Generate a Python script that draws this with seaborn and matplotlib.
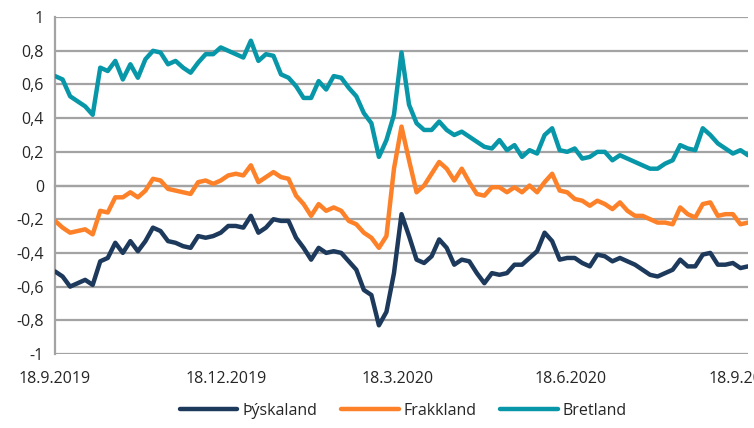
import pandas as pd
import seaborn as sns
import matplotlib.pyplot as plt
import matplotlib.dates as mdates
from matplotlib.ticker import FuncFormatter

sns.set_style("white")
plt.rcParams['font.family'] = ['Open Sans', 'DejaVu Sans']

# dates every 4 days from 18.9.2019
dates = pd.date_range("2019-09-18", periods=93, freq="4D")

bretland = [0.65, 0.63, 0.53, 0.50, 0.47, 0.42, 0.70, 0.68, 0.74, 0.63,
            0.72, 0.64, 0.75, 0.80, 0.79, 0.72, 0.74, 0.70, 0.67, 0.73,
            0.78, 0.78, 0.82, 0.80, 0.78, 0.76, 0.86, 0.74, 0.78, 0.77,
            0.66, 0.64, 0.59, 0.52, 0.52, 0.62, 0.57, 0.65, 0.64, 0.58,
            0.53, 0.43, 0.37, 0.17, 0.27, 0.42, 0.79, 0.48, 0.37, 0.33,
            0.33, 0.38, 0.33, 0.30, 0.32, 0.29, 0.26, 0.23, 0.22, 0.27,
            0.21, 0.24, 0.17, 0.21, 0.19, 0.30, 0.34, 0.21, 0.20, 0.22,
            0.16, 0.17, 0.20, 0.20, 0.15, 0.18, 0.16, 0.14, 0.12, 0.10,
            0.10, 0.13, 0.15, 0.24, 0.22, 0.21, 0.34, 0.30, 0.25, 0.22,
            0.19, 0.21, 0.18]

frakkland = [-0.21, -0.25, -0.28, -0.27, -0.26, -0.29, -0.15, -0.16, -0.07, -0.07,
             -0.04, -0.07, -0.03, 0.04, 0.03, -0.02, -0.03, -0.04, -0.05, 0.02,
             0.03, 0.01, 0.03, 0.06, 0.07, 0.06, 0.12, 0.02, 0.05, 0.08,
             0.05, 0.04, -0.06, -0.11, -0.18, -0.11, -0.15, -0.13, -0.15, -0.21,
             -0.23, -0.28, -0.31, -0.37, -0.30, 0.10, 0.35, 0.15, -0.04, 0.00,
             0.07, 0.14, 0.10, 0.03, 0.10, 0.02, -0.05, -0.06, -0.01, -0.01,
             -0.04, -0.01, -0.04, 0.00, -0.04, 0.02, 0.07, -0.03, -0.04, -0.08,
             -0.09, -0.12, -0.09, -0.11, -0.14, -0.10, -0.15, -0.18, -0.18, -0.20,
             -0.22, -0.22, -0.23, -0.13, -0.17, -0.19, -0.11, -0.10, -0.18, -0.17,
             -0.17, -0.23, -0.22]

thyskaland = [-0.51, -0.54, -0.60, -0.58, -0.56, -0.59, -0.45, -0.43, -0.34, -0.40,
              -0.33, -0.39, -0.33, -0.25, -0.27, -0.33, -0.34, -0.36, -0.37, -0.30,
              -0.31, -0.30, -0.28, -0.24, -0.24, -0.25, -0.18, -0.28, -0.25, -0.20,
              -0.21, -0.21, -0.31, -0.37, -0.44, -0.37, -0.40, -0.39, -0.40, -0.45,
              -0.50, -0.62, -0.65, -0.83, -0.75, -0.52, -0.17, -0.30, -0.44, -0.46,
              -0.42, -0.32, -0.37, -0.47, -0.44, -0.45, -0.52, -0.58, -0.52, -0.53,
              -0.52, -0.47, -0.47, -0.43, -0.39, -0.28, -0.33, -0.44, -0.43, -0.43,
              -0.46, -0.48, -0.41, -0.42, -0.45, -0.43, -0.45, -0.47, -0.50, -0.53,
              -0.54, -0.52, -0.50, -0.44, -0.48, -0.48, -0.41, -0.40, -0.47, -0.47,
              -0.46, -0.49, -0.48]

series = ["Þýskaland", "Frakkland", "Bretland"]
colors = ["#1d3a5c", "#fd8128", "#0897a8"]
tick_dates = ["2019-09-18", "2019-12-18", "2020-03-18", "2020-06-18", "2020-09-18"]
tick_labels = ["18.9.2019", "18.12.2019", "18.3.2020", "18.6.2020", "18.9.2020"]
y_ticks = [-1, -0.8, -0.6, -0.4, -0.2, 0, 0.2, 0.4, 0.6, 0.8, 1]

df = pd.DataFrame({"date": list(dates) * 3,
                   "value": thyskaland + frakkland + bretland,
                   "land": [s for s in series for _ in dates]})

fig = plt.figure(figsize=(7.54, 4.28), dpi=100)
ax = fig.add_axes([0.073, 0.173, 0.919, 0.787])

grid_col = "#a3a3a3"
for v in y_ticks:
    ax.axhline(v, color=grid_col, lw=1.6, zorder=0)

sns.lineplot(data=df, x="date", y="value", hue="land", hue_order=series,
             palette=colors, lw=3.2, ax=ax, legend=False, zorder=3)

ax.set_xlim(pd.Timestamp("2019-09-18"), pd.Timestamp("2020-09-20"))
ax.set_ylim(-1, 1)
ax.set_yticks(y_ticks)


def comma(v, pos):
    if abs(v) < 1e-9:
        return "0"
    if abs(abs(v) - 1) < 1e-9:
        return f"{v:.0f}"
    return f"{v:.1f}".replace(".", ",")


ax.yaxis.set_major_formatter(FuncFormatter(comma))
ax.tick_params(axis="y", length=5, width=1.6, color=grid_col, pad=3, labelsize=11.5)
ax.set_xlabel("")
ax.set_ylabel("")

for s in ["top", "right"]:
    ax.spines[s].set_visible(False)
ax.spines["left"].set_color(grid_col)
ax.spines["left"].set_linewidth(1.6)

# horizontal axis crosses at zero, ticks there, labels at the bottom
tick_nums = mdates.date2num(pd.to_datetime(tick_dates))
ax.spines["bottom"].set_position(("data", 0))
ax.spines["bottom"].set_color(grid_col)
ax.spines["bottom"].set_linewidth(1.6)
ax.set_xticks(tick_nums)
ax.tick_params(axis="x", direction="out", length=5, width=1.6, color=grid_col,
               labelbottom=False)

sec = ax.secondary_xaxis("bottom")
sec.set_xticks(tick_nums)
sec.set_xticklabels(tick_labels)
sec.tick_params(length=0, pad=12, labelsize=11.5)
sec.spines["bottom"].set_visible(False)

handles = [plt.Line2D([], [], color=c, lw=3.2) for c in colors]
fig.legend(handles, series, loc="lower center", bbox_to_anchor=(0.535, -0.012),
           ncol=3, frameon=False, fontsize=11.5, handlelength=3.6,
           columnspacing=1.5, handletextpad=0.3)

fig.savefig("out.png", dpi=100)
